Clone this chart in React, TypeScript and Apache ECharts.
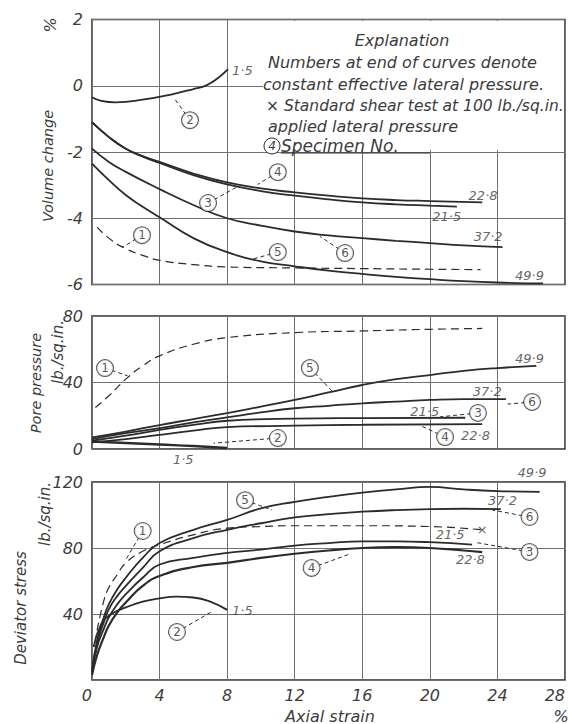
import React, { useEffect, useRef } from "react";
import * as echarts from "echarts";

// ---------- data ----------
const xTicks = [0, 4, 8, 12, 16, 20, 24, 28];

// Volume change (%) vs axial strain (%)
const vol1 = [[0.3,-4.27],[1,-4.6],[2,-4.92],[3,-5.12],[4,-5.27],[6,-5.4],[8,-5.47],[12,-5.5],[16,-5.52],[20,-5.54],[23,-5.55]];
const vol2 = [[0,-0.35],[0.5,-0.45],[1.4,-0.5],[3,-0.42],[4.8,-0.25],[6,-0.1],[6.8,0.02],[7.5,0.25],[8.05,0.5]];
const vol3 = [[0,-1.1],[1,-1.55],[2,-1.9],[3,-2.14],[4,-2.33],[6,-2.7],[8,-2.98],[10,-3.18],[12,-3.32],[14,-3.43],[16,-3.52],[18,-3.58],[20,-3.62],[21.6,-3.65]];
const vol4 = [[0,-1.1],[1,-1.55],[2,-1.9],[3,-2.12],[4,-2.3],[6,-2.65],[8,-2.92],[10,-3.1],[12,-3.22],[14,-3.32],[16,-3.4],[18,-3.45],[20,-3.48],[23.1,-3.52]];
const vol5 = [[0,-2.35],[1,-2.85],[2,-3.3],[3,-3.65],[4,-3.97],[6,-4.6],[8,-5.02],[10,-5.3],[12,-5.45],[14,-5.58],[16,-5.68],[18,-5.77],[20,-5.84],[22,-5.9],[24,-5.94],[26.7,-5.97]];
const vol6 = [[0,-1.9],[1,-2.3],[2,-2.6],[4,-3.12],[6,-3.6],[8,-4.0],[10,-4.22],[12,-4.4],[14,-4.52],[16,-4.6],[18,-4.68],[20,-4.75],[22,-4.82],[24.3,-4.87]];

// Pore pressure (lb./sq.in.)
const pore1 = [[0.2,25],[1,32],[2,42],[3,50],[4,56],[6,63],[8,67],[12,70],[16,71],[20,72],[23.1,72.5]];
const pore2 = [[0,4.5],[2,3.6],[4,2.7],[6,1.8],[8,0.6]];
const pore3 = [[0,5],[2,8],[4,11.5],[6,14.5],[8,17],[12,18.3],[16,18.6],[22.1,18.8]];
const pore4 = [[0,4],[2,6],[4,8.5],[6,11],[8,13.2],[12,14],[16,14.6],[23.1,15]];
const pore5 = [[0,7],[2,10.5],[4,14.4],[6,18],[8,21.6],[10,25.5],[12,29.5],[14,34],[16,38.5],[18,42],[20,44.5],[22,47],[24,48.7],[26.3,50]];
const pore6 = [[0,6],[2,9.5],[4,12.6],[6,16],[8,19],[10,22],[12,24.5],[14,26],[16,27.5],[18,28.5],[20,29.5],[22,30],[24.5,30]];

// Deviator stress (lb./sq.in.)
const dev1 = [[0.3,30],[0.7,48],[1,56],[1.5,64],[2,71],[3,78],[4,82],[6,88],[8,92],[10,93],[12,93.5],[16,93.5],[20,93],[23.1,91]];
const dev2 = [[0.1,20],[0.5,33],[1,39],[2,44],[3,47.5],[4,49.5],[5,50.5],[6,50],[7,47.5],[8,42.5]];
const dev3 = [[0,4],[0.3,20],[0.7,31],[1,38],[1.5,46],[2,52],[3,62],[4,70],[6,74],[8,77],[10,79],[12,81.5],[14,83],[16,84],[18,84],[20,83.5],[22.5,82]];
const dev4 = [[0,3],[0.3,15],[0.7,26],[1,33],[1.5,41],[2,47],[3,57],[4,63],[6,68.5],[8,71],[10,74],[12,76.5],[14,78.5],[16,80],[18,80.5],[20,80],[22,78.5],[23.1,77.5]];
const dev5 = [[0,5],[0.3,24],[0.7,38],[1,46],[1.5,55],[2,62],[3,74],[4,83],[6,91],[8,97],[10,104],[12,108],[14,111],[16,113.5],[18,115.5],[20,117],[22,115.5],[24,114.5],[26.5,114]];
const dev6 = [[0,5],[0.3,22],[0.7,35],[1,43],[1.5,51],[2,57],[3,68],[4,78],[6,86],[8,91],[10,95],[12,98.5],[14,100.5],[16,102],[18,103],[20,103.6],[22,103.8],[24.2,103.6]];

// end-of-curve labels: [x, y, text]
const volEnds = [[8.9,0.47,"1·5"],[23.15,-3.3,"22·8"],[21.0,-3.95,"21·5"],[23.45,-4.55,"37·2"],[25.9,-5.72,"49·9"]];
const poreEnds = [[25.9,54.7,"49·9"],[23.4,34.3,"37·2"],[19.7,22.3,"21·5"],[22.7,8.4,"22·8"],[5.4,-6.6,"1·5"]];
const devEnds = [[26.05,126,"49·9"],[24.3,109,"37·2"],[21.2,88,"21·5"],[22.4,73.3,"22·8"],[8.9,42.4,"1·5"]];

// specimen markers: [label x, label y, pointer x, pointer y, number]
const volMarks = [[5.8,-1.04,4.9,-0.4,"2"],[11.0,-2.61,9.8,-2.98,"4"],[6.87,-3.54,8.6,-3.05,"3"],[2.96,-4.51,1.8,-4.88,"1"],[11.0,-5.02,9.4,-5.25,"5"],[14.98,-5.05,13.5,-4.55,"6"]];
const poreMarks = [[0.77,48.7,2.1,44,"1"],[12.9,48.7,14.2,35,"5"],[26.05,28.3,24.6,27,"6"],[22.85,21.7,20.6,19.3,"3"],[20.9,7.2,19.5,13.8,"4"],[11.0,6.6,7.2,3.5,"2"]];
const devMarks = [[3.0,90.3,1.95,72,"1"],[9.06,109,10.66,103,"5"],[25.9,98.8,23.7,103,"6"],[25.9,77.6,22.7,83.4,"3"],[13.0,67.9,15.3,76.5,"4"],[5.03,29.1,7.1,41.5,"2"]];

const stdTest = [[23.1, 91, "×"]];

// ---------- style ----------
const FONT = "DejaVu Sans";
const INK = "#2b2b2b";
const TXT = "#3c3c3c";
const GRIDC = "#707070";

const gridsPx = [
  { left: 92, top: 19.5, width: 473, height: 265 },
  { left: 92, top: 316, width: 473, height: 133 },
  { left: 92, top: 482, width: 473, height: 198 },
];

function curve(data: number[][], i: number, dashed = false, width = 1.8) {
  return {
    type: "line",
    xAxisIndex: i,
    yAxisIndex: i,
    data,
    smooth: 0.5,
    showSymbol: false,
    symbol: "none",
    clip: false,
    lineStyle: { color: INK, width: dashed ? 1.2 : width, type: dashed ? [8, 5] : "solid" },
    z: 3,
  };
}

function endLabels(data: any[], i: number) {
  return {
    type: "scatter",
    xAxisIndex: i,
    yAxisIndex: i,
    data: data.map((d) => ({ value: d })),
    symbolSize: 0,
    clip: false,
    silent: true,
    label: {
      show: true,
      position: "inside",
      formatter: (p: any) => p.value[2],
      fontFamily: FONT,
      fontStyle: "italic",
      fontSize: 13,
      color: TXT,
    },
    z: 5,
  };
}

function marks(data: any[], i: number) {
  return {
    type: "scatter",
    xAxisIndex: i,
    yAxisIndex: i,
    data: data.map((d) => ({ value: [d[0], d[1], d[4]] })),
    symbolSize: 0,
    clip: false,
    silent: true,
    label: {
      show: true,
      position: "inside",
      formatter: (p: any) => p.value[2],
      fontFamily: FONT,
      fontSize: 12,
      color: INK,
      backgroundColor: "#fff",
      borderColor: INK,
      borderWidth: 1,
      borderRadius: 9,
      width: 16,
      height: 16,
      lineHeight: 16,
      align: "center",
      verticalAlign: "middle",
      padding: 0,
    },
    markLine: {
      silent: true,
      animation: false,
      symbol: ["none", "arrow"],
      symbolSize: [0, 7],
      lineStyle: { color: INK, width: 1, type: [4, 3] },
      label: { show: false },
      emphasis: { disabled: true },
      data: data.map((d) => [{ coord: [d[0], d[1]] }, { coord: [d[2], d[3]] }]),
    },
    z: 6,
  };
}

function xAxis(i: number, showLabels: boolean) {
  return {
    type: "value",
    gridIndex: i,
    min: xTicks[0],
    max: xTicks[xTicks.length - 1],
    interval: 4,
    axisLine: { show: false },
    axisTick: { show: false },
    splitLine: { show: true, lineStyle: { color: GRIDC, width: 1 } },
    axisLabel: {
      show: showLabels,
      margin: 7,
      fontFamily: FONT,
      fontStyle: "italic",
      fontSize: 16,
      color: TXT,
      alignMinLabel: "right",
      alignMaxLabel: "right",
    },
  };
}

function yAxis(i: number, min: number, max: number, interval: number, hideZero = false) {
  return {
    type: "value",
    gridIndex: i,
    min,
    max,
    interval,
    axisLine: { show: false },
    axisTick: { show: false },
    splitLine: { show: true, lineStyle: { color: GRIDC, width: 1 } },
    axisLabel: {
      margin: 9,
      fontFamily: FONT,
      fontStyle: "italic",
      fontSize: 16,
      color: TXT,
      formatter: (v: number) => (hideZero && v === 0 ? "" : String(v)),
    },
  };
}

function txt(text: string, x: number, y: number, opts: any = {}) {
  return {
    type: "text",
    x,
    y,
    rotation: opts.rotation || 0,
    z: 10,
    style: {
      text,
      fill: TXT,
      font: `italic ${opts.size || 15}px "${FONT}"`,
      align: opts.align || "center",
      verticalAlign: "middle",
    },
  };
}

export default function App() {
  const ref = useRef<HTMLDivElement>(null);

  useEffect(() => {
    if (!ref.current) return;
    const chart = echarts.init(ref.current, undefined, { renderer: "svg" });
    const R = Math.PI / 2;
    chart.setOption({
      animation: false,
      backgroundColor: "#fff",
      grid: gridsPx.map((g) => ({
        ...g,
        show: true,
        containLabel: false,
        outerBoundsMode: "none",
        borderColor: INK,
        borderWidth: 1.5,
        backgroundColor: "transparent",
      })),
      xAxis: [xAxis(0, false), xAxis(1, false), xAxis(2, true)],
      yAxis: [yAxis(0, -6, 2, 2), yAxis(1, 0, 80, 40), yAxis(2, 0, 120, 40, true)],
      series: [
        curve(vol1, 0, true), curve(vol2, 0), curve(vol3, 0), curve(vol4, 0), curve(vol5, 0), curve(vol6, 0),
        curve(pore1, 1, true), curve(pore2, 1, false, 2.4), curve(pore3, 1), curve(pore4, 1), curve(pore5, 1), curve(pore6, 1),
        curve(dev1, 2, true), curve(dev2, 2), curve(dev3, 2), curve(dev4, 2, false, 2.2), curve(dev5, 2), curve(dev6, 2),
        endLabels(volEnds, 0), endLabels(poreEnds, 1), endLabels(devEnds, 2), endLabels(stdTest, 2),
        marks(volMarks, 0), marks(poreMarks, 1), marks(devMarks, 2),
      ],
      graphic: [
        { type: "rect", shape: { x: 263, y: 21, width: 301, height: 129 }, style: { fill: "#fff" }, z: 1 },
        txt("Explanation", 402, 40, { size: 16 }),
        txt("Numbers at end of curves denote", 268, 62, { size: 16, align: "left" }),
        txt("constant effective lateral pressure.", 263, 84, { size: 16, align: "left" }),
        txt("× Standard shear test at 100 lb./sq.in.", 266, 106, { size: 15.5, align: "left" }),
        txt("applied lateral pressure", 268, 126, { size: 16, align: "left" }),
        {
          type: "circle", shape: { cx: 272, cy: 146, r: 8 }, z: 10,
          style: { fill: "#fff", stroke: INK, lineWidth: 1 },
        },
        txt("4", 272, 146, { size: 12 }),
        txt("Specimen No.", 281, 146, { size: 17, align: "left" }),
        { type: "line", shape: { x1: 281, y1: 153, x2: 430, y2: 153 }, style: { stroke: INK, lineWidth: 1 }, z: 10 },
        txt("%", 50, 25, { size: 16, rotation: R }),
        txt("Volume change", 48, 166, { size: 14.5, rotation: R }),
        txt("Pore pressure", 36, 383, { size: 14.5, rotation: R }),
        txt("lb./sq.in.", 58, 352, { size: 15, rotation: R }),
        txt("Deviator stress", 21, 608, { size: 15, rotation: R }),
        txt("lb./sq.in.", 45, 514, { size: 15, rotation: R }),
        txt("Axial strain", 330, 716, { size: 16 }),
        txt("%", 561, 716, { size: 16 }),
      ],
    });
    return () => chart.dispose();
  }, []);

  return (
    <div
      ref={ref}
      style={{ position: "fixed", left: 0, top: 0, width: 568, height: 724, background: "#fff" }}
    />
  );
}
